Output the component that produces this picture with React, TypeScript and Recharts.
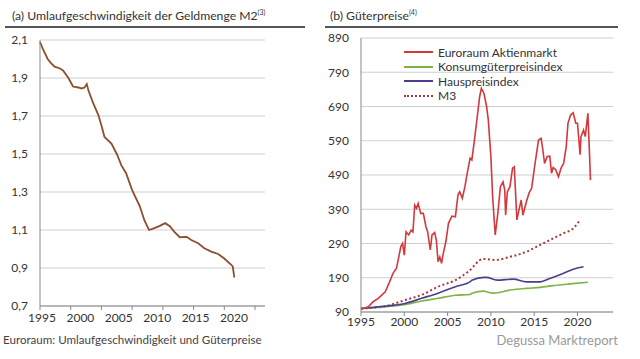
import { LineChart, Line, XAxis, YAxis, CartesianGrid } from "recharts"

// (a) Umlaufgeschwindigkeit M2
const velocityYears = [1995.0, 1995.4, 1996.0, 1996.4, 1996.9, 1997.6, 1998.0, 1998.7, 1999.3, 2000.0, 2000.4, 2000.8, 2001.1, 2001.3, 2001.9, 2002.6, 2003.0, 2003.4, 2004.3, 2005.0, 2005.6, 2006.2, 2007.0, 2008.0, 2008.6, 2009.2, 2009.9, 2010.6, 2011.3, 2011.9, 2012.5, 2013.2, 2014.1, 2014.7, 2015.6, 2016.4, 2017.3, 2018.2, 2019.0, 2019.9, 2020.1, 2020.3]
const velocityValues = [2.09, 2.05, 2.0, 1.98, 1.96, 1.95, 1.94, 1.9, 1.855, 1.85, 1.845, 1.85, 1.868, 1.835, 1.77, 1.705, 1.65, 1.59, 1.555, 1.5, 1.44, 1.4, 1.31, 1.225, 1.15, 1.1, 1.11, 1.122, 1.136, 1.12, 1.09, 1.062, 1.064, 1.047, 1.03, 1.004, 0.986, 0.974, 0.95, 0.917, 0.908, 0.85]
const velocityTicks = [0.7, 0.9, 1.1, 1.3, 1.5, 1.7, 1.9, 2.1]

// (b) Güterpreise
const stockYears = [1995.0, 1995.85, 1996.4, 1997.0, 1997.8, 1998.3, 1998.7, 1999.1, 1999.6, 1999.8, 2000.0, 2000.2, 2000.5, 2000.8, 2001.0, 2001.2, 2001.4, 2001.6, 2001.9, 2002.2, 2002.5, 2002.7, 2003.0, 2003.2, 2003.5, 2003.7, 2003.9, 2004.1, 2004.3, 2004.5, 2004.8, 2005.1, 2005.5, 2005.9, 2006.2, 2006.4, 2006.7, 2007.0, 2007.3, 2007.6, 2007.8, 2008.1, 2008.4, 2008.7, 2008.9, 2009.2, 2009.5, 2009.7, 2010.0, 2010.2, 2010.5, 2010.8, 2011.1, 2011.4, 2011.6, 2011.7, 2011.9, 2012.2, 2012.5, 2012.7, 2013.0, 2013.2, 2013.5, 2013.7, 2014.1, 2014.4, 2014.7, 2015.1, 2015.5, 2015.8, 2016.0, 2016.2, 2016.5, 2016.8, 2017.0, 2017.2, 2017.5, 2017.8, 2018.1, 2018.4, 2018.7, 2018.9, 2019.2, 2019.5, 2019.8, 2020.0, 2020.3, 2020.4, 2020.7, 2020.9, 2021.2, 2021.4, 2021.5]
const stockValues = [98, 105, 120, 130, 149, 178, 203, 218, 281, 290, 256, 324, 315, 329, 324, 402, 393, 407, 378, 378, 339, 324, 271, 315, 322, 300, 237, 251, 232, 261, 295, 349, 370, 368, 432, 441, 422, 456, 500, 539, 534, 592, 655, 719, 743, 728, 690, 651, 543, 427, 315, 378, 456, 470, 446, 373, 441, 456, 510, 514, 359, 383, 417, 373, 412, 437, 451, 524, 592, 597, 563, 524, 544, 545, 495, 512, 505, 485, 510, 524, 573, 641, 665, 672, 641, 641, 549, 602, 621, 602, 670, 543, 475]

const cpiYears = [1995, 1998, 2000, 2002, 2003.9, 2005.9, 2007.6, 2007.8, 2009.2, 2009.5, 2010.3, 2012.2, 2014.1, 2015.7, 2017.2, 2019.1, 2021.2]
const cpiValues = [100, 106, 111, 122, 130, 139, 141, 145, 151, 149, 145, 154, 159, 162, 167, 172, 177]

const houseYears = [1995, 1997, 1998.9, 2000.1, 2002, 2003.9, 2005.9, 2007.6, 2007.8, 2009.2, 2009.5, 2010.7, 2012.6, 2014.1, 2015.7, 2016.8, 2018.4, 2019.5, 2020.7]
const houseValues = [100, 105, 110, 115, 130, 145, 164, 178, 183, 191, 191, 183, 186, 178, 178, 188, 203, 215, 222]

const m3Years = [1995, 1997.8, 2000.1, 2002, 2003.9, 2005.9, 2007.4, 2009.1, 2010.5, 2012.2, 2014.1, 2015.3, 2016.8, 2018.4, 2019.5, 2020.3]
const m3Values = [100, 107, 125, 140, 164, 183, 208, 245, 242, 251, 266, 281, 300, 320, 334, 359]

const priceTicks = [90, 190, 290, 390, 490, 590, 690, 790, 890]
const yearLabels = [1995, 2000, 2005, 2010, 2015, 2020]
const leftYearTicks = [1995, 1999, 2000, 2003, 2005, 2007, 2010, 2011, 2015, 2019, 2020, 2023]

const legendNames = ["Euroraum Aktienmarkt", "Konsumgüterpreisindex", "Hauspreisindex", "M3"]
const legendColors = ["#d2393c", "#7bb547", "#4a3f8c", "#a83a3c"]

const zip = (xs: number[], ys: number[]) => xs.map((x, i) => ({ x, y: ys[i] }))

const FONT = "Lato, 'Noto Sans', sans-serif"
const TICK = { fill: "#333", fontSize: 12, fontFamily: FONT }

// left axis: tick marks every 4 years, labels every 5 years
function LeftYearTick(props: any) {
  const { x, y, payload } = props
  const v = payload.value
  const axisY = y - 6
  return (
    <g>
      {(v - 1995) % 4 === 0 && <line x1={x} x2={x} y1={axisY} y2={axisY + 4} stroke="#888" />}
      {v % 5 === 0 && (
        <text x={x + 2} y={axisY + 16} textAnchor="middle" {...TICK}>{v}</text>
      )}
    </g>
  )
}

function PriceLegend() {
  return (
    <div style={{ width: 180 }}>
      {legendNames.map((name, i) => (
        <div key={name} style={{ display: "flex", alignItems: "center", height: 14.5, fontSize: 12, color: "#333", whiteSpace: "nowrap" }}>
          <div style={{ width: 29, marginRight: 5, borderTop: `2px ${name === "M3" ? "dotted" : "solid"} ${legendColors[i]}` }} />
          {name}
        </div>
      ))}
    </div>
  )
}

export default function App() {
  return (
    <div style={{ position: "absolute", left: 0, top: 0, width: 640, height: 359, background: "#fff", fontFamily: FONT, overflow: "hidden" }}>
      {/* titles */}
      <div style={{ position: "absolute", left: 12, top: 8, fontSize: 12.2, color: "#333", whiteSpace: "nowrap" }}>
        (a) Umlaufgeschwindigkeit der Geldmenge M2<sup style={{ fontSize: 7 }}>(3)</sup>
      </div>
      <div style={{ position: "absolute", left: 5, top: 26, width: 300, height: 1.5, background: "#555" }} />
      <div style={{ position: "absolute", left: 330, top: 8, fontSize: 12.2, color: "#333", whiteSpace: "nowrap" }}>
        (b) Güterpreise<sup style={{ fontSize: 7 }}>(4)</sup>
      </div>
      <div style={{ position: "absolute", left: 325, top: 26, width: 293, height: 1.5, background: "#555" }} />

      <div style={{ position: "absolute", left: 0, top: 0 }}>
        <LineChart width={280} height={330} data={zip(velocityYears, velocityValues)} margin={{ top: 40, right: 15, bottom: 4, left: 0 }}>
          <CartesianGrid vertical={false} stroke="#cfcfcf" />
          <XAxis dataKey="x" type="number" domain={[1995, 2024.3]} ticks={leftYearTicks} interval={0} tickLine={false} tickSize={4} tickMargin={2} height={20} stroke="#888" tick={<LeftYearTick />} />
          <YAxis type="number" domain={[0.7, 2.1]} ticks={velocityTicks} width={40} tickLine={false} stroke="#888" tick={TICK} tickMargin={6} tickFormatter={(v: number) => v.toFixed(1).replace(".", ",")} />
          <Line dataKey="y" type="linear" stroke="#8c4f2c" strokeWidth={1.8} dot={false} isAnimationActive={false} />
        </LineChart>
      </div>

      <div style={{ position: "absolute", left: 320, top: 0 }}>
        <LineChart width={300} height={336} margin={{ top: 38, right: 7, bottom: 4, left: 0 }}>
          <CartesianGrid vertical={false} stroke="#cfcfcf" />
          <XAxis dataKey="x" type="number" domain={[1995, 2024.1]} ticks={yearLabels} interval={0} tickSize={4} tickMargin={1} height={20} stroke="#888" tick={TICK} allowDuplicatedCategory={false} />
          <YAxis type="number" domain={[90, 890]} ticks={priceTicks} width={41} tickLine={false} stroke="#888" tick={TICK} tickMargin={6} />
          <Line data={zip(m3Years, m3Values)} dataKey="y" type="monotone" stroke="#a83a3c" strokeWidth={2} strokeDasharray="2 2.5" dot={false} isAnimationActive={false} />
          <Line data={zip(cpiYears, cpiValues)} dataKey="y" type="monotone" stroke="#7bb547" strokeWidth={1.6} dot={false} isAnimationActive={false} />
          <Line data={zip(houseYears, houseValues)} dataKey="y" type="monotone" stroke="#4a3f8c" strokeWidth={1.6} dot={false} isAnimationActive={false} />
          <Line data={zip(stockYears, stockValues)} dataKey="y" type="linear" stroke="#d2393c" strokeWidth={1.6} dot={false} isAnimationActive={false} />
        </LineChart>
      </div>

      <div style={{ position: "absolute", left: 404, top: 45 }}>
        <PriceLegend />
      </div>

      <div style={{ position: "absolute", left: 3, top: 333, fontSize: 11.6, color: "#444", whiteSpace: "nowrap" }}>
        Euroraum: Umlaufgeschwindigkeit und Güterpreise
      </div>
      <div style={{ position: "absolute", right: 22, top: 332, fontSize: 13, color: "#9a9a9a", whiteSpace: "nowrap" }}>
        Degussa Marktreport
      </div>
    </div>
  )
}
